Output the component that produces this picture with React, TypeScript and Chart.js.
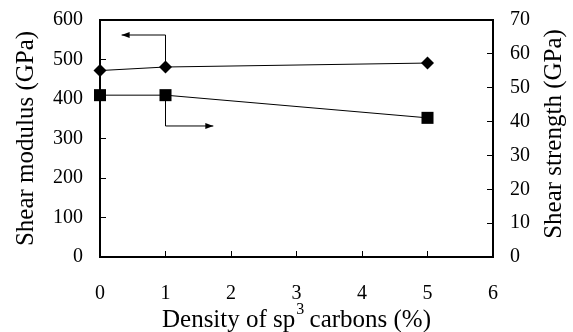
import React, { useEffect, useRef } from 'react';
import { Chart, registerables } from 'chart.js';

Chart.register(...registerables);

// ---- data ----
const densities = [0, 1, 5];
const shearModulus = [472, 481, 491];
const shearStrength = [47.8, 47.8, 41.1];

const xTickValues = [0, 1, 2, 3, 4, 5, 6];
const modulusTicks = [0, 100, 200, 300, 400, 500, 600];
const strengthTicks = [0, 10, 20, 30, 40, 50, 60, 70];

// arrow annotations (data units)
const modulusArrowX = [1, 1, 0.33];
const modulusArrowY = [481, 562, 562];
const strengthArrowX = [1, 1, 1.73];
const strengthArrowY = [47.8, 38.7, 38.7];

const xTitleMain = 'Density of sp';
const xTitleSup = '3';
const xTitleRest = ' carbons (%)';
const leftTitle = 'Shear modulus (GPa)';
const rightTitle = 'Shear strength (GPa)';

const FONT = 'Liberation Serif';
Chart.defaults.font.family = FONT;

const arrowPlugin = {
  id: 'arrowHeads',
  afterDatasetsDraw(chart: any) {
    const ctx = chart.ctx;
    chart.data.datasets.forEach((ds: any, i: number) => {
      if (!ds.isArrow) return;
      const pts = chart.getDatasetMeta(i).data;
      const a = pts[pts.length - 2];
      const b = pts[pts.length - 1];
      const ang = Math.atan2(b.y - a.y, b.x - a.x);
      const len = 8;
      const hw = 3;
      ctx.save();
      ctx.fillStyle = '#000';
      ctx.beginPath();
      ctx.moveTo(b.x, b.y);
      ctx.lineTo(b.x - len * Math.cos(ang) + hw * Math.sin(ang), b.y - len * Math.sin(ang) - hw * Math.cos(ang));
      ctx.lineTo(b.x - len * Math.cos(ang) - hw * Math.sin(ang), b.y - len * Math.sin(ang) + hw * Math.cos(ang));
      ctx.closePath();
      ctx.fill();
      ctx.restore();
    });
  },
};

const framePlugin = {
  id: 'frameAndTitles',
  afterDraw(chart: any) {
    const ctx = chart.ctx;
    const area = chart.chartArea;
    ctx.save();
    ctx.strokeStyle = '#000';
    ctx.lineWidth = 2;
    ctx.beginPath();
    ctx.moveTo(area.left - 1, area.top);
    ctx.lineTo(area.right + 1, area.top);
    ctx.stroke();

    ctx.fillStyle = '#000';
    const big = `25px '${FONT}'`;
    const small = `16px '${FONT}'`;
    ctx.font = big;
    const w1 = ctx.measureText(xTitleMain).width;
    const w3 = ctx.measureText(xTitleRest).width;
    ctx.font = small;
    const w2 = ctx.measureText(xTitleSup).width;
    const total = w1 + w2 + w3;
    const cx = (area.left + area.right) / 2;
    let x = cx - total / 2;
    const baseY = 327;
    ctx.textBaseline = 'alphabetic';
    ctx.textAlign = 'left';
    ctx.font = big;
    ctx.fillText(xTitleMain, x, baseY);
    x += w1;
    ctx.font = small;
    ctx.fillText(xTitleSup, x + 1, baseY - 13);
    x += w2;
    ctx.font = big;
    ctx.fillText(xTitleRest, x, baseY);

    ctx.save();
    ctx.translate(33, (area.top + area.bottom) / 2);
    ctx.rotate(-Math.PI / 2);
    ctx.textAlign = 'center';
    ctx.font = big;
    ctx.fillText(leftTitle, 0, 0);
    ctx.restore();

    ctx.save();
    ctx.translate(561, 134);
    ctx.rotate(-Math.PI / 2);
    ctx.textAlign = 'center';
    ctx.font = big;
    ctx.fillText(rightTitle, 0, 0);
    ctx.restore();

    ctx.restore();
  },
};

export default function App() {
  const canvasRef = useRef<HTMLCanvasElement | null>(null);

  useEffect(() => {
    if (!canvasRef.current) return;
    const tickFont = { family: FONT, size: 20 };
    const chart = new Chart(canvasRef.current, {
      type: 'scatter',
      data: {
        datasets: [
          {
            label: 'Shear modulus',
            data: densities.map((d, i) => ({ x: d, y: shearModulus[i] })),
            yAxisID: 'y',
            showLine: true,
            borderColor: '#000',
            borderWidth: 1,
            backgroundColor: '#000',
            pointStyle: 'rectRot',
            pointRadius: 6.5,
            pointBorderWidth: 0,
            clip: false,
          },
          {
            label: 'Shear strength',
            data: densities.map((d, i) => ({ x: d, y: shearStrength[i] })),
            yAxisID: 'y1',
            showLine: true,
            borderColor: '#000',
            borderWidth: 1,
            backgroundColor: '#000',
            pointStyle: 'rect',
            pointRadius: 8.5,
            pointBorderWidth: 0,
            clip: false,
          },
          {
            label: 'arrowModulus',
            isArrow: true,
            data: modulusArrowX.map((v, i) => ({ x: v, y: modulusArrowY[i] })),
            yAxisID: 'y',
            showLine: true,
            borderColor: '#000',
            borderWidth: 1,
            pointRadius: 0,
            clip: false,
          } as any,
          {
            label: 'arrowStrength',
            isArrow: true,
            data: strengthArrowX.map((v, i) => ({ x: v, y: strengthArrowY[i] })),
            yAxisID: 'y1',
            showLine: true,
            borderColor: '#000',
            borderWidth: 1,
            pointRadius: 0,
            clip: false,
          } as any,
        ],
      },
      options: {
        animation: false,
        responsive: false,
        devicePixelRatio: 1,
        layout: { padding: { top: 20, left: 0, right: 0, bottom: 0 } },
        plugins: {
          legend: { display: false },
          tooltip: { enabled: false },
        },
        scales: {
          x: {
            type: 'linear',
            position: 'bottom',
            min: 0,
            max: 6,
            afterBuildTicks: (s: any) => {
              s.ticks = xTickValues.map((v) => ({ value: v }));
            },
            ticks: { font: tickFont, color: '#000', padding: 31, maxRotation: 0 },
            grid: { drawOnChartArea: false, color: '#000', lineWidth: 1, tickLength: -6 },
            border: { display: true, color: '#000', width: 2 },
            afterFit: (s: any) => {
              s.height = 75;
              s.paddingLeft = 0;
              s.paddingRight = 0;
            },
          },
          y: {
            type: 'linear',
            position: 'left',
            min: 0,
            max: 600,
            afterBuildTicks: (s: any) => {
              s.ticks = modulusTicks.map((v) => ({ value: v }));
            },
            ticks: { font: tickFont, color: '#000', padding: 23 },
            grid: { drawOnChartArea: false, color: '#000', lineWidth: 1, tickLength: -6 },
            border: { display: true, color: '#000', width: 2 },
            afterFit: (s: any) => {
              s.width = 100;
              s.paddingTop = 0;
              s.paddingBottom = 0;
            },
          },
          y1: {
            type: 'linear',
            position: 'right',
            min: 0,
            max: 70,
            afterBuildTicks: (s: any) => {
              s.ticks = strengthTicks.map((v) => ({ value: v }));
            },
            ticks: { font: tickFont, color: '#000', padding: 23 },
            grid: { drawOnChartArea: false, color: '#000', lineWidth: 1, tickLength: -6 },
            border: { display: true, color: '#000', width: 2 },
            afterFit: (s: any) => {
              s.width = 80;
              s.paddingTop = 0;
              s.paddingBottom = 0;
            },
          },
        },
      },
      plugins: [arrowPlugin, framePlugin],
    } as any);
    return () => chart.destroy();
  }, []);

  return (
    <div style={{ position: 'absolute', left: 0, top: 0, width: 573, height: 332, background: '#fff' }}>
      <canvas ref={canvasRef} width={573} height={332} style={{ display: 'block' }} />
    </div>
  );
}
